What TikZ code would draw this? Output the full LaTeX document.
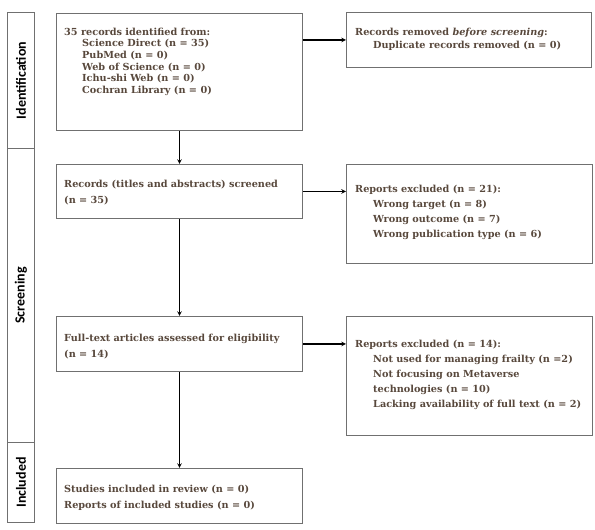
\documentclass[tikz,border=0pt]{standalone}
\usepackage{fontspec}
\setmainfont{DejaVu Serif}
\newfontfamily\stagefont{Carlito}
\usetikzlibrary{positioning}
\definecolor{txtbrown}{RGB}{88,72,60}
\definecolor{boxgray}{RGB}{112,112,112}
\tikzset{>=stealth}

\begin{document}
\begin{tikzpicture}[x=1pt, y=1pt,
    box/.style={draw=boxgray, line width=1pt, anchor=north west, inner sep=0pt, minimum width=246pt},
    stagebox/.style={draw=boxgray, line width=1pt, anchor=north west, inner sep=0pt, minimum width=27pt},
    stagelabel/.style={rotate=90, font=\stagefont\bfseries\fontsize{14}{16}\selectfont},
    txt/.style={anchor=north west, align=left, inner sep=0pt, text=txtbrown,
        font=\bfseries\fontsize{9.7}{#1}\selectfont},
    txt/.default=12,
    flow/.style={->, line width=1.1pt}]
    \useasboundingbox (0,0) rectangle (595,530);

    % stages
    \node[stagebox, minimum height=136pt] (ident) at (7,518) {};
    \node[stagebox, minimum height=294pt] (screen) at (7,382) {};
    \node[stagebox, minimum height=80pt] (incl) at (7,88) {};
    \node[stagelabel] at (ident.center) {Identification};
    \node[stagelabel] at (screen.center) {Screening};
    \node[stagelabel] at (incl.center) {Included};

    % boxes
    \node[box, minimum height=117pt] (found) at (56,517) {};
    \node[box, minimum height=55pt, minimum width=245pt] (removed) at (346,518) {};
    \node[box, minimum height=54pt] (screened) at (56,366) {};
    \node[box, minimum height=99pt] (excl1) at (346,366) {};
    \node[box, minimum height=55pt] (fulltext) at (56,214) {};
    \node[box, minimum height=119pt] (excl2) at (346,214) {};
    \node[box, minimum height=55pt] (included) at (56,62) {};

    % texts
    \node[txt=11.7] (foundtxt) at (64,502.5) {35 records identified from:\\
        \hspace*{18pt}Science Direct (n = 35)\\
        \hspace*{18pt}PubMed (n = 0)\\
        \hspace*{18pt}Web of Science (n = 0)\\
        \hspace*{18pt}Ichu-shi Web (n = 0)\\
        \hspace*{18pt}Cochran Library (n = 0)};
    \node[txt=13.3] (removedtxt) at (355,502.5) {Records removed \textit{before screening}:\\
        \hspace*{18pt}Duplicate records removed (n = 0)};
    \node[txt=16.5] (screenedtxt) at (64,350.5) {Records (titles and abstracts) screened\\(n = 35)};
    \node[txt=15] (excl1txt) at (355,345.5) {Reports excluded (n = 21):\\
        \hspace*{18pt}Wrong target (n = 8)\\
        \hspace*{18pt}Wrong outcome (n = 7)\\
        \hspace*{18pt}Wrong publication type (n = 6)};
    \node[txt=16.5] (fulltexttxt) at (64,196.5) {Full-text articles assessed for eligibility\\(n = 14)};
    \node[txt=15] (excl2txt) at (355,190.5) {Reports excluded (n = 14):\\
        \hspace*{18pt}Not used for managing frailty (n =2)\\
        \hspace*{18pt}Not focusing on Metaverse\\
        \hspace*{18pt}technologies (n = 10)\\
        \hspace*{18pt}Lacking availability of full text (n = 2)};
    \node[txt=16] (includedtxt) at (64,45.5) {Studies included in review (n = 0)\\
        Reports of included studies (n = 0)};

    % arrows
    \draw[flow] (found.east |- removed.west) -- (removed.west);
    \draw[flow] (found.south) -- (screened.north);
    \draw[flow] (screened.east) -- (excl1.west |- screened.east);
    \draw[flow] (screened.south) -- (fulltext.north);
    \draw[flow] (fulltext.east) -- (excl2.west |- fulltext.east);
    \draw[flow] (fulltext.south) -- (included.north);
\end{tikzpicture}
\end{document}
